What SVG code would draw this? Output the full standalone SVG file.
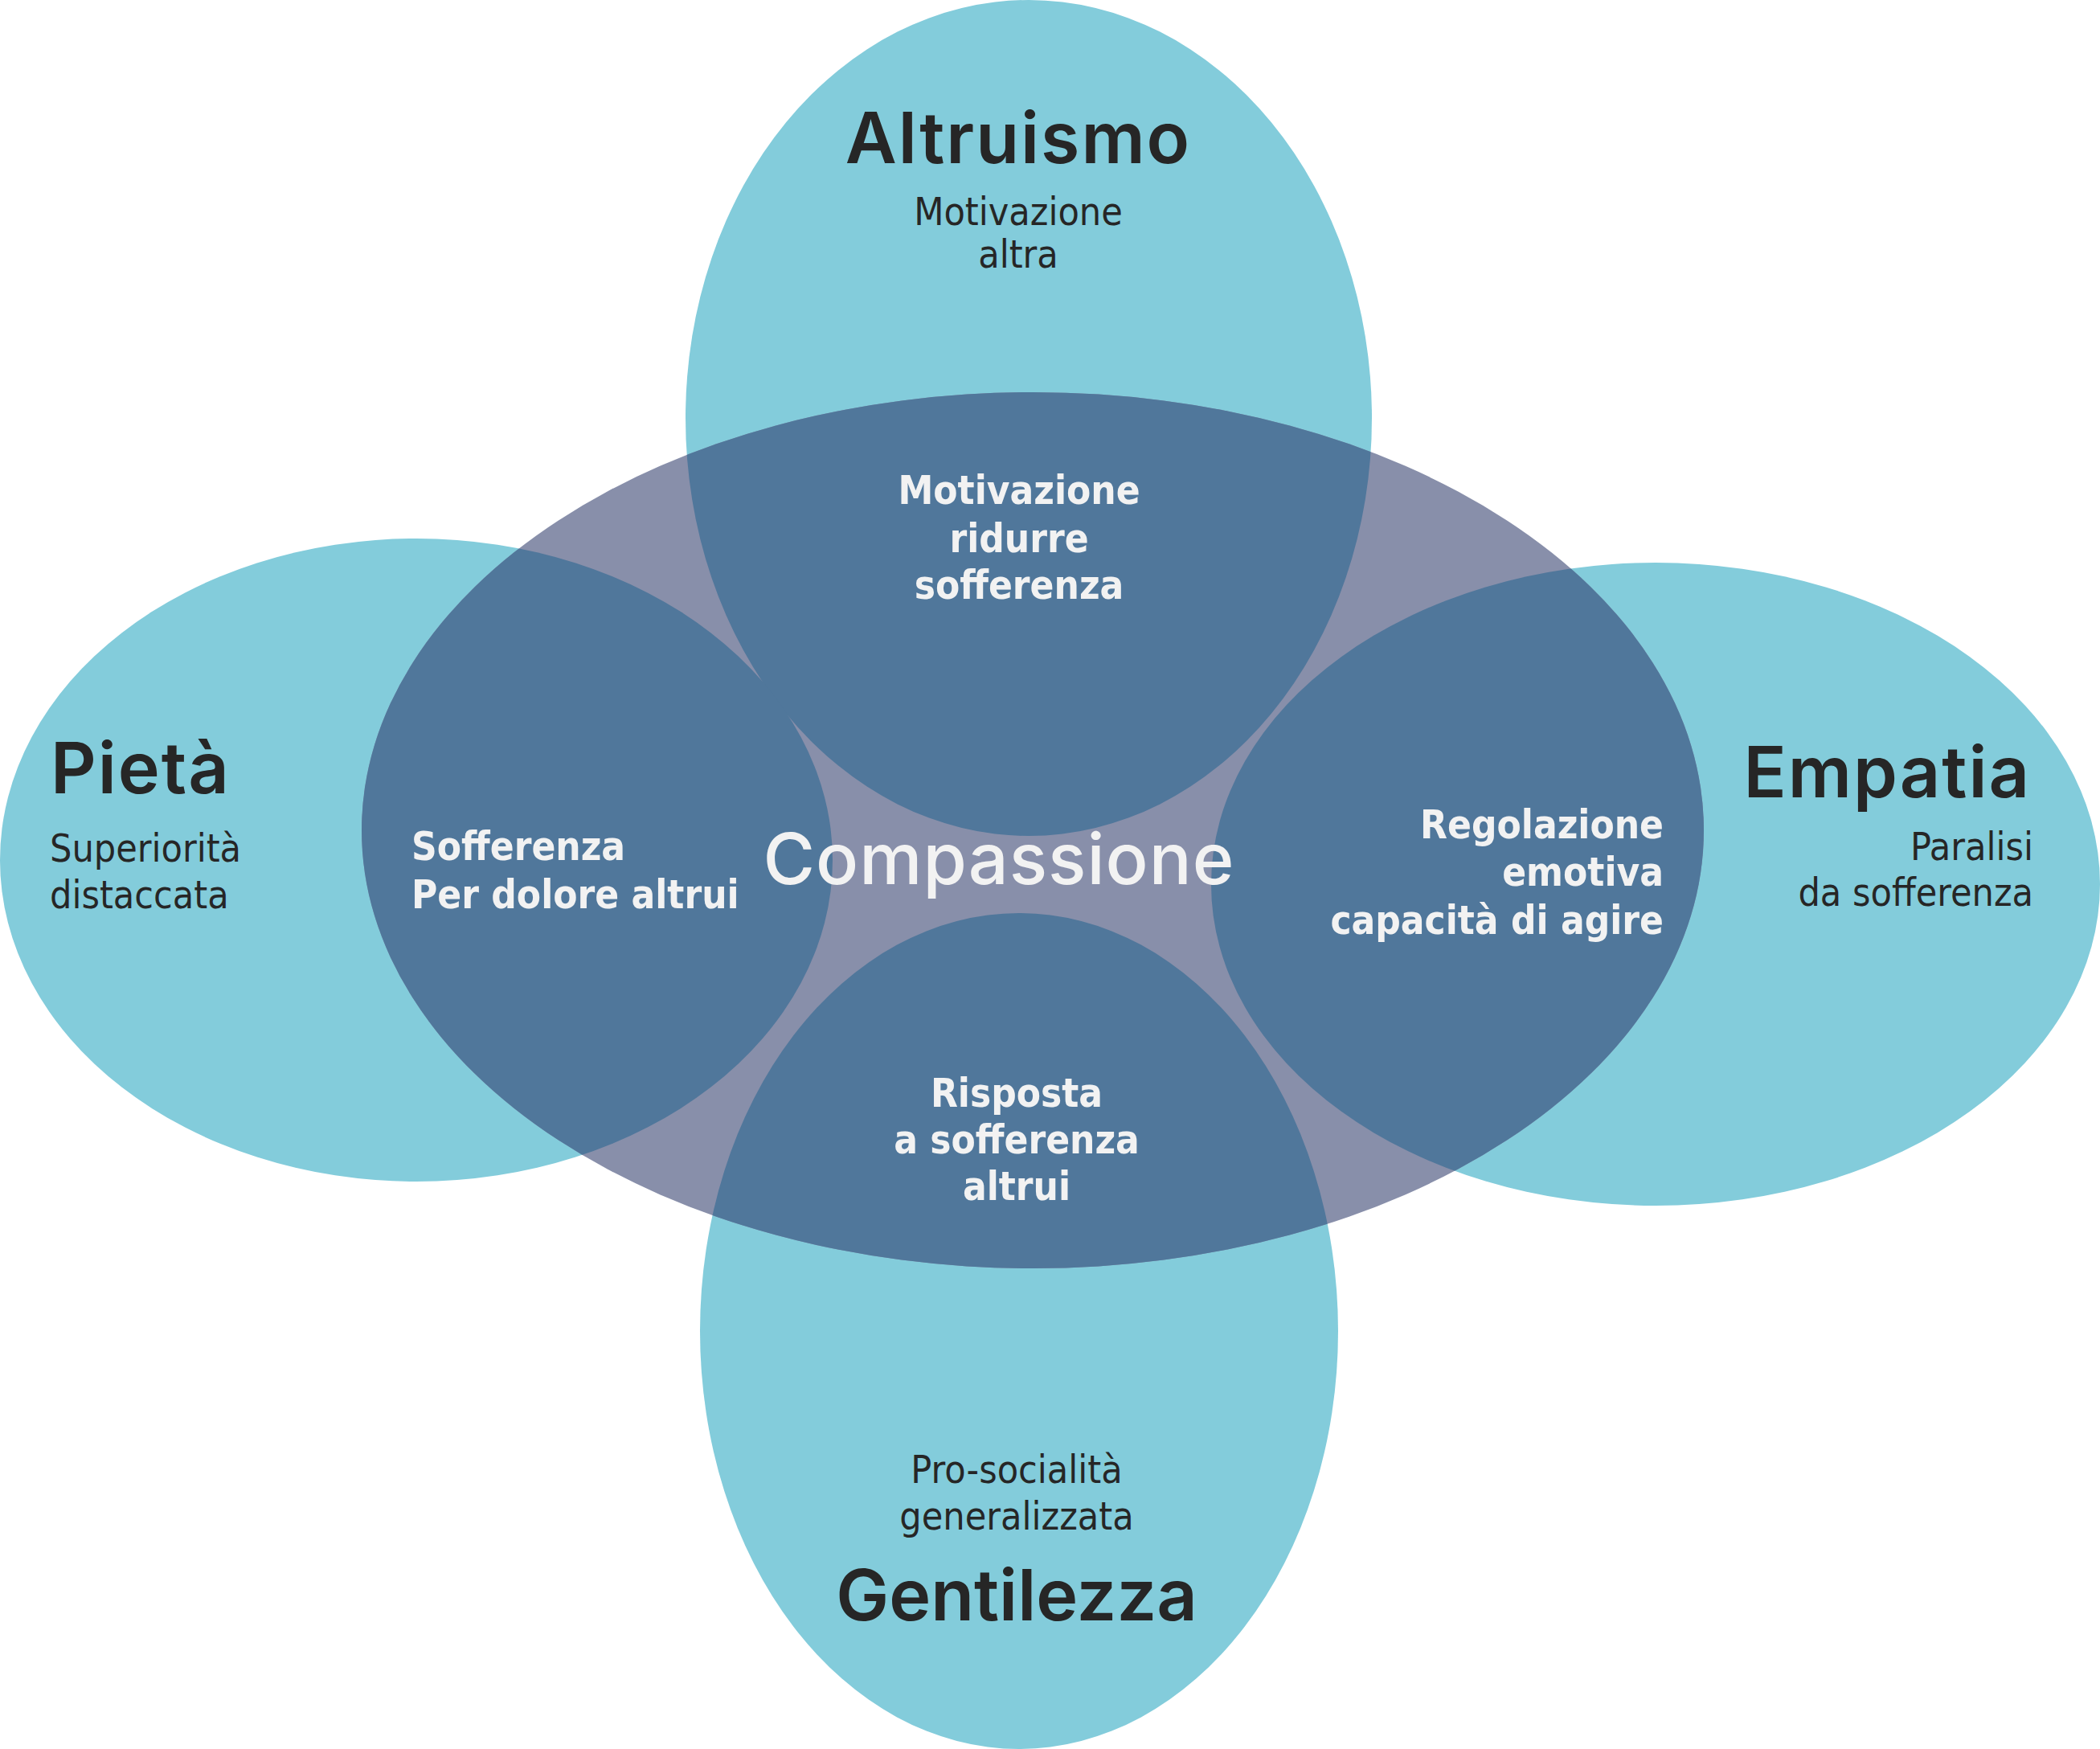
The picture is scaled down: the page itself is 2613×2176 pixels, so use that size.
<svg xmlns="http://www.w3.org/2000/svg" width="2613" height="2176" viewBox="0 0 2613 2176">
<style>
.outer{fill:#83CCDB}
.core{fill:#888FAA}
.ov{fill:#50779B}
.title{font-family:Inter,"Noto Sans","Liberation Sans",sans-serif;font-weight:600;font-size:88px;letter-spacing:2px;fill:#262626}
.sub{font-family:"DejaVu Sans Condensed","DejaVu Sans",sans-serif;font-size:48px;fill:#262626}
.bold{font-family:"DejaVu Sans Condensed","DejaVu Sans",sans-serif;font-weight:bold;font-size:49px;fill:#F2F2F2}
.comp{font-family:Inter,"Noto Sans","Liberation Sans",sans-serif;font-weight:500;font-size:88px;letter-spacing:1px;fill:#F2F2F2}
</style>
<defs>
<clipPath id="coreClip"><ellipse cx="1285" cy="1033" rx="835" ry="545"/></clipPath>
</defs>
<g id="altruismo">
<ellipse class="outer" cx="1280" cy="520" rx="427" ry="520"/>
<text class="title" x="1267" y="203" text-anchor="middle">Altruismo</text>
<text class="sub" x="1267" y="280" text-anchor="middle">Motivazione</text>
<text class="sub" x="1267" y="333" text-anchor="middle">altra</text>
</g>
<g id="pieta">
<ellipse class="outer" cx="518" cy="1070" rx="518" ry="400"/>
<text class="title" x="63" y="987">Pietà</text>
<text class="sub" x="62" y="1072">Superiorità</text>
<text class="sub" x="62" y="1130">distaccata</text>
</g>
<g id="empatia">
<ellipse class="outer" cx="2060" cy="1100" rx="553" ry="400"/>
<text class="title" x="2527" y="992" text-anchor="end">Empatia</text>
<text class="sub" x="2530" y="1070" text-anchor="end">Paralisi</text>
<text class="sub" x="2530" y="1127" text-anchor="end">da sofferenza</text>
</g>
<g id="gentilezza">
<ellipse class="outer" cx="1268" cy="1656" rx="397" ry="520"/>
<text class="sub" x="1265" y="1845" text-anchor="middle">Pro-socialità</text>
<text class="sub" x="1265" y="1903" text-anchor="middle">generalizzata</text>
<text class="title" x="1265" y="2016" text-anchor="middle" style="letter-spacing:0">Gentilezza</text>
</g>
<g id="compassione">
<ellipse class="core" cx="1285" cy="1033" rx="835" ry="545"/>
<g clip-path="url(#coreClip)">
<ellipse class="ov" cx="1280" cy="520" rx="427" ry="520"/>
<ellipse class="ov" cx="518" cy="1070" rx="518" ry="400"/>
<ellipse class="ov" cx="2060" cy="1100" rx="553" ry="400"/>
<ellipse class="ov" cx="1268" cy="1656" rx="397" ry="520"/>
</g>
<text class="comp" x="1243" y="1100" text-anchor="middle">Compassione</text>
<text class="bold" x="1268" y="627" text-anchor="middle">Motivazione</text>
<text class="bold" x="1268" y="687" text-anchor="middle">ridurre</text>
<text class="bold" x="1268" y="745" text-anchor="middle">sofferenza</text>
<text class="bold" x="512" y="1070">Sofferenza</text>
<text class="bold" x="512" y="1130">Per dolore altrui</text>
<text class="bold" x="2070" y="1043" text-anchor="end">Regolazione</text>
<text class="bold" x="2070" y="1102" text-anchor="end">emotiva</text>
<text class="bold" x="2070" y="1162" text-anchor="end">capacità di agire</text>
<text class="bold" x="1265" y="1377" text-anchor="middle">Risposta</text>
<text class="bold" x="1265" y="1435" text-anchor="middle">a sofferenza</text>
<text class="bold" x="1265" y="1493" text-anchor="middle">altrui</text>
</g>
<g id="connectors"/>
</svg>
